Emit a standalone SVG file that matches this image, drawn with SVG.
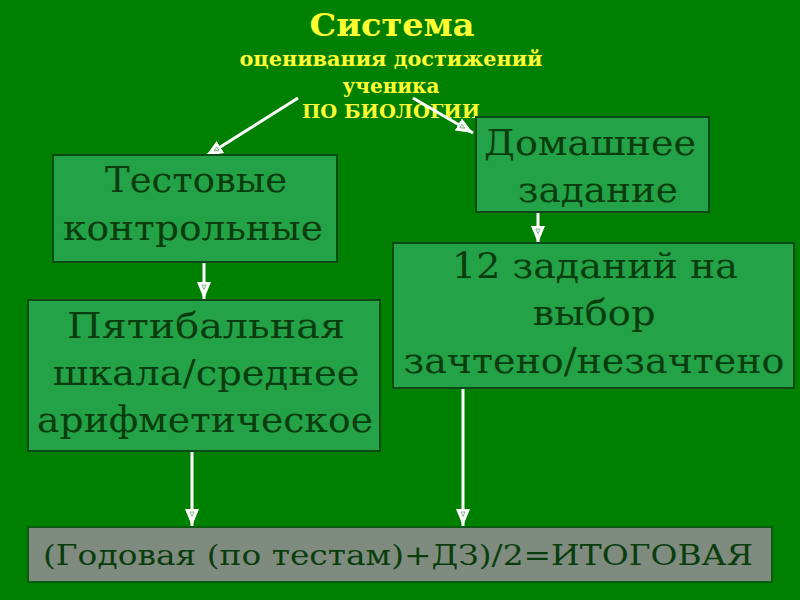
<svg xmlns="http://www.w3.org/2000/svg" width="800" height="600" viewBox="0 0 800 600">
<defs>
<style>
.bg{fill:#008000}
.box{fill:#23a247;stroke:#0b4a17;stroke-width:2}
.gbox{fill:#7f8b7e;stroke:#0b5a12;stroke-width:2}
.t{font-family:"DejaVu Serif","Liberation Serif",serif;fill:#0a3d0d;font-size:36px;text-anchor:middle}
.bt{font-size:28px}
.h{font-family:"DejaVu Serif","Liberation Serif",serif;fill:#ffff33;font-weight:bold;text-anchor:middle}
.c{stroke:#ffffff;stroke-width:3;fill:none;marker-end:url(#ah)}
</style>
<marker id="ah" viewBox="0 0 17 14" refX="17" refY="7" markerWidth="17" markerHeight="14" markerUnits="userSpaceOnUse" orient="auto">
<path d="M0,0 L17,7 L0,14 Z" fill="#ffffff"/>
<path d="M3,5 L7.5,7 L3,9 Z" fill="none" stroke="#6aa77a" stroke-width="0.8"/>
</marker>
</defs>
<rect class="bg" x="0" y="0" width="800" height="600"/>
<g id="title">
<text class="h" x="392" y="36" font-size="31" textLength="165" lengthAdjust="spacingAndGlyphs">Система</text>
<text class="h" x="391" y="66" font-size="21" textLength="303" lengthAdjust="spacingAndGlyphs">оценивания достижений</text>
<text class="h" x="391" y="93" font-size="21" textLength="97" lengthAdjust="spacingAndGlyphs">ученика</text>
<text class="h" x="391" y="118" font-size="18" textLength="178" lengthAdjust="spacingAndGlyphs">ПО БИОЛОГИИ</text>
</g>
<g id="connectors">
<line class="c" x1="298" y1="98" x2="206" y2="156"/>
<line class="c" x1="413" y1="98" x2="473" y2="133"/>
<line class="c" x1="204" y1="262" x2="204" y2="299"/>
<line class="c" x1="538" y1="212" x2="538" y2="243"/>
<line class="c" x1="192" y1="452" x2="192" y2="526"/>
<line class="c" x1="463" y1="388" x2="463" y2="526"/>
</g>
<g id="tests">
<rect class="box" x="53" y="155" width="284" height="107"/>
<text class="t" x="196" y="192" textLength="182" lengthAdjust="spacingAndGlyphs">Тестовые</text>
<text class="t" x="193" y="240" textLength="260" lengthAdjust="spacingAndGlyphs">контрольные</text>
</g>
<g id="scale">
<rect class="box" x="28" y="300" width="352" height="151"/>
<text class="t" x="206" y="338" textLength="278" lengthAdjust="spacingAndGlyphs">Пятибальная</text>
<text class="t" x="206" y="385" textLength="307" lengthAdjust="spacingAndGlyphs">шкала/среднее</text>
<text class="t" x="205" y="432" textLength="336" lengthAdjust="spacingAndGlyphs">арифметическое</text>
</g>
<g id="homework">
<rect class="box" x="476" y="117" width="233" height="95"/>
<text class="t" x="590" y="155" textLength="212" lengthAdjust="spacingAndGlyphs">Домашнее</text>
<text class="t" x="598" y="202" textLength="160" lengthAdjust="spacingAndGlyphs">задание</text>
</g>
<g id="tasks">
<rect class="box" x="393" y="243" width="401" height="145"/>
<text class="t" x="595" y="278" textLength="286" lengthAdjust="spacingAndGlyphs">12 заданий на</text>
<text class="t" x="594" y="325" textLength="123" lengthAdjust="spacingAndGlyphs">выбор</text>
<text class="t" x="594" y="373" textLength="381" lengthAdjust="spacingAndGlyphs">зачтено/незачтено</text>
</g>
<g id="final">
<rect class="gbox" x="28" y="527" width="744" height="55"/>
<text class="t bt" x="398" y="565" textLength="710" lengthAdjust="spacingAndGlyphs">(Годовая (по тестам)+ДЗ)/2=ИТОГОВАЯ</text>
</g>
</svg>
